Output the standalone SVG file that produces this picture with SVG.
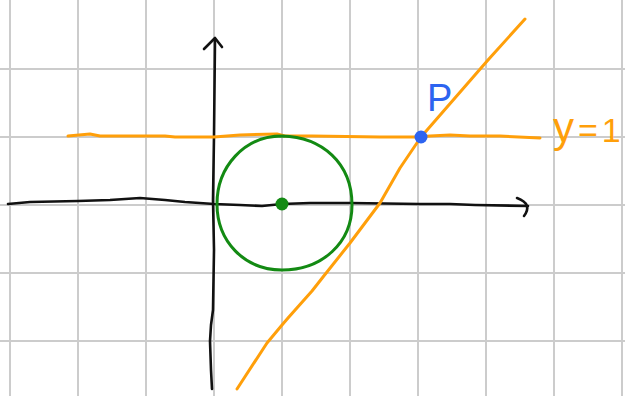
<svg xmlns="http://www.w3.org/2000/svg" width="625" height="396" viewBox="0 0 625 396">
<style>
.grid line{stroke:#cccccc;stroke-width:2}
.ink{fill:none;stroke-linecap:round;stroke-linejoin:round}
.blk{stroke:#111111;stroke-width:2.6}
.org{stroke:#ff9f0a;stroke-width:3}
.grn{stroke:#138a13;stroke-width:3}
.lbl{font-family:"Liberation Sans",Arial,sans-serif}
</style>
<rect width="625" height="396" fill="#ffffff"/>
<g id="grid" class="grid">
<line x1="10" y1="0" x2="10" y2="396"/>
<line x1="78" y1="0" x2="78" y2="396"/>
<line x1="146" y1="0" x2="146" y2="396"/>
<line x1="214" y1="0" x2="214" y2="396"/>
<line x1="282" y1="0" x2="282" y2="396"/>
<line x1="350" y1="0" x2="350" y2="396"/>
<line x1="418" y1="0" x2="418" y2="396"/>
<line x1="486" y1="0" x2="486" y2="396"/>
<line x1="554" y1="0" x2="554" y2="396"/>
<line x1="622" y1="0" x2="622" y2="396"/>
<line x1="0" y1="69" x2="625" y2="69"/>
<line x1="0" y1="137" x2="625" y2="137"/>
<line x1="0" y1="205" x2="625" y2="205"/>
<line x1="0" y1="273" x2="625" y2="273"/>
<line x1="0" y1="341" x2="625" y2="341"/>
</g>
<g id="connectors">
<g id="x-axis">
<polyline class="ink blk" points="8,204 30,202 78,201 110,200 140,198 165,200 185,202 214,204 240,205 262,206 282,204 310,203 350,203 420,204 450,204 475,205 528,206"/>
<path class="ink blk" stroke-width="3.8" d="M517,198 Q533,204 524,216"/>
</g>
<g id="y-axis">
<polyline class="ink blk" points="212,389 211,370 210,341 211,325 213,310 214,250 213,200 214,136 215,40"/>
<path class="ink blk" stroke-width="4" d="M204,49 L215,38 L222,47"/>
</g>
</g>
<g id="line-y1">
<polyline class="ink org" points="68,136 90,134 100,136 165,136 175,137 214,137 240,135 277,134 285,136 312,136 380,137 418,137 430,136 450,135 470,136 500,136 540,138"/>
</g>
<g id="tangent-line">
<polyline class="ink org" points="237,389 267,343 282,325 288,318 312,291 323,277 350,243 380,203 400,168 421,137 488,60 525,19"/>
</g>
<g id="circle">
<path class="ink grn" d="M282,136 C322,137 352,163 352,205 C352,243 322,270 282,270 C244,270 217,241 217,204 C217,167 244,136 282,136 Z"/>
<circle cx="282" cy="204" r="6.5" fill="#138a13"/>
</g>
<g id="point-p">
<circle cx="421" cy="137" r="6.5" fill="#2d64f0"/>
<text class="lbl" x="427" y="111" font-size="38" fill="#2d64f0">P</text>
</g>
<g id="label-y1">
<text class="lbl" x="553" y="142" style="font-size:34px" fill="#ff9f0a"><tspan style="font-size:42px">y</tspan><tspan dx="4">=</tspan><tspan dx="4">1</tspan></text>
</g>
</svg>
